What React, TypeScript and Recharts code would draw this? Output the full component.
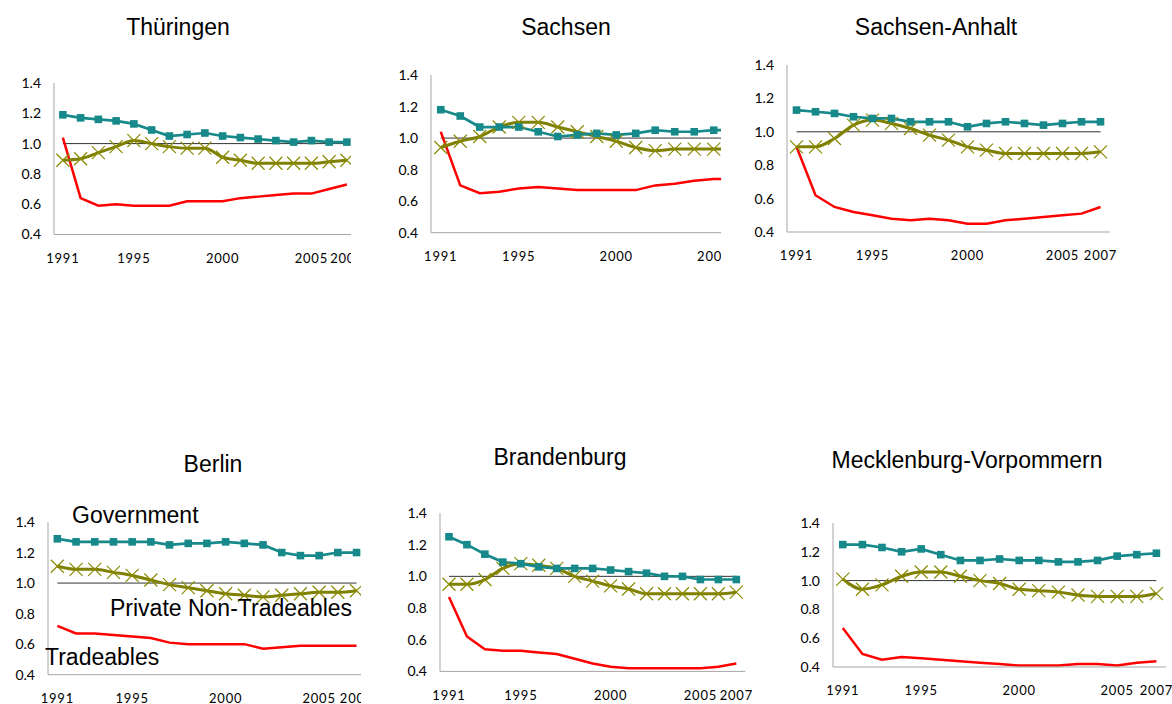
import React from "react";
import { LineChart, Line, XAxis, YAxis, ReferenceLine } from "recharts";

// years on the horizontal axis
const years = [
  1991, 1992, 1993, 1994, 1995, 1996, 1997, 1998, 1999, 2000, 2001, 2002, 2003,
  2004, 2005, 2006, 2007,
];
const yearTicks = [1991, 1995, 2000, 2005, 2007];
const valueTicks = [0.4, 0.6, 0.8, 1.0, 1.2, 1.4];

// Thüringen
const thueringenGov = [1.19, 1.17, 1.16, 1.15, 1.13, 1.09, 1.05, 1.06, 1.07, 1.05, 1.04, 1.03, 1.02, 1.01, 1.02, 1.01, 1.01];
const thueringenPriv = [0.89, 0.9, 0.94, 0.98, 1.02, 1.0, 0.98, 0.97, 0.97, 0.91, 0.89, 0.87, 0.87, 0.87, 0.87, 0.88, 0.89];
const thueringenTrade = [1.04, 0.64, 0.59, 0.6, 0.59, 0.59, 0.59, 0.62, 0.62, 0.62, 0.64, 0.65, 0.66, 0.67, 0.67, 0.7, 0.73];

// Sachsen
const sachsenGov = [1.18, 1.14, 1.07, 1.07, 1.07, 1.04, 1.01, 1.02, 1.03, 1.02, 1.03, 1.05, 1.04, 1.04, 1.05, 1.05, 1.05];
const sachsenPriv = [0.94, 0.98, 1.01, 1.07, 1.1, 1.1, 1.07, 1.04, 1.01, 0.98, 0.94, 0.92, 0.93, 0.93, 0.93, 0.93, 0.93];
const sachsenTrade = [1.04, 0.7, 0.65, 0.66, 0.68, 0.69, 0.68, 0.67, 0.67, 0.67, 0.67, 0.7, 0.71, 0.73, 0.74, 0.74, 0.75];

// Sachsen-Anhalt
const anhaltGov = [1.13, 1.12, 1.11, 1.09, 1.08, 1.08, 1.06, 1.06, 1.06, 1.03, 1.05, 1.06, 1.05, 1.04, 1.05, 1.06, 1.06];
const anhaltPriv = [0.91, 0.91, 0.96, 1.04, 1.07, 1.05, 1.02, 0.98, 0.95, 0.91, 0.89, 0.87, 0.87, 0.87, 0.87, 0.87, 0.88];
const anhaltTrade = [0.91, 0.62, 0.55, 0.52, 0.5, 0.48, 0.47, 0.48, 0.47, 0.45, 0.45, 0.47, 0.48, 0.49, 0.5, 0.51, 0.55];

// Berlin
const berlinGov = [1.29, 1.27, 1.27, 1.27, 1.27, 1.27, 1.25, 1.26, 1.26, 1.27, 1.26, 1.25, 1.2, 1.18, 1.18, 1.2, 1.2];
const berlinPriv = [1.11, 1.09, 1.09, 1.07, 1.05, 1.02, 0.99, 0.97, 0.95, 0.93, 0.92, 0.91, 0.92, 0.93, 0.94, 0.94, 0.95];
const berlinTrade = [0.72, 0.67, 0.67, 0.66, 0.65, 0.64, 0.61, 0.6, 0.6, 0.6, 0.6, 0.57, 0.58, 0.59, 0.59, 0.59, 0.59];

// Brandenburg
const brandenburgGov = [1.25, 1.2, 1.14, 1.09, 1.08, 1.06, 1.05, 1.05, 1.05, 1.04, 1.03, 1.02, 1.0, 1.0, 0.98, 0.98, 0.98];
const brandenburgPriv = [0.95, 0.95, 0.98, 1.05, 1.08, 1.07, 1.05, 1.0, 0.97, 0.94, 0.92, 0.89, 0.89, 0.89, 0.89, 0.89, 0.9];
const brandenburgTrade = [0.87, 0.62, 0.54, 0.53, 0.53, 0.52, 0.51, 0.48, 0.45, 0.43, 0.42, 0.42, 0.42, 0.42, 0.42, 0.43, 0.45];

// Mecklenburg-Vorpommern
const mvGov = [1.25, 1.25, 1.23, 1.2, 1.22, 1.18, 1.14, 1.14, 1.15, 1.14, 1.14, 1.13, 1.13, 1.14, 1.17, 1.18, 1.19];
const mvPriv = [1.01, 0.94, 0.97, 1.03, 1.06, 1.06, 1.03, 1.0, 0.98, 0.94, 0.93, 0.92, 0.9, 0.89, 0.89, 0.89, 0.91];
const mvTrade = [0.67, 0.49, 0.45, 0.47, 0.46, 0.45, 0.44, 0.43, 0.42, 0.41, 0.41, 0.41, 0.42, 0.42, 0.41, 0.43, 0.44];

const TEAL = "#17898a";
const OLIVE = "#7f7f00";
const RED = "#ff0000";

const Y_W = 45;
const M_TOP = 12;
const X_H = 40;
const M_RIGHT = 20;

const buildRows = (gov: number[], priv: number[], trade: number[]) =>
  years.map((year, i) => ({ year, gov: gov[i], priv: priv[i], trade: trade[i] }));

// layout of each small chart (page coordinates)
const panels = [
  { title: "Thüringen", titleX: 178, titleTop: 19, axisX: 54, y14: 83, y04: 234.5, band: 17.75, clipRight: 351, rows: buildRows(thueringenGov, thueringenPriv, thueringenTrade) },
  { title: "Sachsen", titleX: 566, titleTop: 19, axisX: 430.7, y14: 75, y04: 232.7, band: 19.5, clipRight: 721, rows: buildRows(sachsenGov, sachsenPriv, sachsenTrade) },
  { title: "Sachsen-Anhalt", titleX: 936, titleTop: 19, axisX: 786.7, y14: 65, y04: 232, band: 19, clipRight: 1172, rows: buildRows(anhaltGov, anhaltPriv, anhaltTrade) },
  { title: "Berlin", titleX: 213, titleTop: 456, axisX: 47.5, y14: 522.3, y04: 675, band: 18.7, clipRight: 361, rows: buildRows(berlinGov, berlinPriv, berlinTrade) },
  { title: "Brandenburg", titleX: 560, titleTop: 449, axisX: 440, y14: 513.3, y04: 671.7, band: 17.96, clipRight: 1172, rows: buildRows(brandenburgGov, brandenburgPriv, brandenburgTrade) },
  { title: "Mecklenburg-Vorpommern", titleX: 967, titleTop: 452, axisX: 832.7, y14: 523.3, y04: 667.3, band: 19.6, clipRight: 1172, rows: buildRows(mvGov, mvPriv, mvTrade) },
];

// series labels written inside the Berlin panel
const notes = [
  { text: "Government", left: 72, capTop: 507 },
  { text: "Private Non-Tradeables", left: 110, capTop: 600 },
  { text: "Tradeables", left: 45, capTop: 649 },
];

const SquareDot = (p: any) => {
  if (p.cx == null || p.cy == null) return <g key={`s-${p.index}`} />;
  return <rect key={`s-${p.index}`} x={p.cx - 3.8} y={p.cy - 3.8} width={7.6} height={7.6} fill={TEAL} />;
};

const CrossDot = (p: any) => {
  if (p.cx == null || p.cy == null) return <g key={`x-${p.index}`} />;
  const r = 6.5;
  return (
    <path
      key={`x-${p.index}`}
      d={`M${p.cx - r},${p.cy - r}L${p.cx + r},${p.cy + r}M${p.cx + r},${p.cy - r}L${p.cx - r},${p.cy + r}`}
      stroke="#8a8a00"
      strokeWidth={1.2}
      fill="none"
    />
  );
};

const Panel = ({ p }: { p: (typeof panels)[number] }) => {
  const chartLeft = p.axisX - Y_W;
  const chartTop = p.y14 - M_TOP;
  const height = M_TOP + (p.y04 - p.y14) + X_H;
  const width = Y_W + 17 * p.band + M_RIGHT;
  const clipW = Math.min(p.clipRight - chartLeft, width);
  return (
    <>
      <div
        style={{
          position: "absolute",
          left: p.titleX - 200,
          width: 400,
          top: p.titleTop - 3,
          textAlign: "center",
          fontFamily: "'Liberation Sans', Arial, sans-serif",
          fontSize: 23,
          lineHeight: "23px",
          color: "#000",
        }}
      >
        {p.title}
      </div>
      <div
        style={{
          position: "absolute",
          left: chartLeft,
          top: chartTop,
          width: clipW,
          height,
          overflow: "hidden",
        }}
      >
        <LineChart
          width={width}
          height={height}
          data={p.rows}
          margin={{ top: M_TOP, right: M_RIGHT, bottom: 0, left: 0 }}
        >
          <XAxis
            dataKey="year"
            type="number"
            domain={[1990.5, 2007.5]}
            ticks={yearTicks}
            interval={0}
            height={X_H}
            axisLine={{ stroke: "#a6a6a6" }}
            tickLine={false}
            tickSize={0}
            tickMargin={19}
            tick={{ fontFamily: "Lato, sans-serif", fontSize: 13, fill: "#000", letterSpacing: 0.8 }}
          />
          <YAxis
            domain={[0.4, 1.4]}
            ticks={valueTicks}
            interval={0}
            width={Y_W}
            axisLine={{ stroke: "#a6a6a6" }}
            tickLine={false}
            tickSize={0}
            tickMargin={13}
            tickFormatter={(v: number) => v.toFixed(1)}
            tick={{ fontFamily: "Lato, sans-serif", fontSize: 14, fill: "#000" }}
          />
          <ReferenceLine
            segment={[
              { x: 1991, y: 1 },
              { x: 2007, y: 1 },
            ]}
            stroke="#333"
            strokeWidth={1}
          />
          <Line dataKey="trade" type="linear" stroke={RED} strokeWidth={2.5} dot={false} activeDot={false} isAnimationActive={false} />
          <Line dataKey="priv" type="monotone" stroke={OLIVE} strokeWidth={3} dot={CrossDot} activeDot={false} isAnimationActive={false} />
          <Line dataKey="gov" type="linear" stroke={TEAL} strokeWidth={2.7} dot={SquareDot} activeDot={false} isAnimationActive={false} />
        </LineChart>
      </div>
    </>
  );
};

export default function App() {
  return (
    <div
      style={{
        position: "absolute",
        left: 0,
        top: 0,
        width: 1172,
        height: 704,
        overflow: "hidden",
        background: "#fff",
      }}
    >
      {panels.map((p) => (
        <Panel key={p.title} p={p} />
      ))}
      {notes.map((n) => (
        <div
          key={n.text}
          style={{
            position: "absolute",
            left: n.left,
            top: n.capTop - 3,
            whiteSpace: "nowrap",
            fontFamily: "'Liberation Sans', Arial, sans-serif",
            fontSize: 23,
            lineHeight: "23px",
            color: "#000",
          }}
        >
          {n.text}
        </div>
      ))}
    </div>
  );
}
